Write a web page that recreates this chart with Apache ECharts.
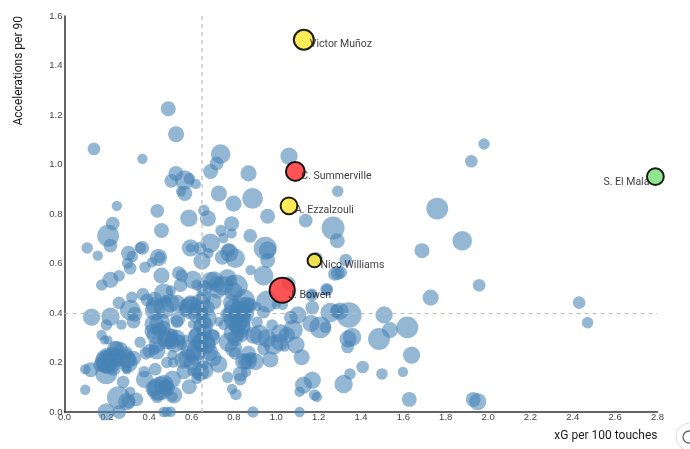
<!DOCTYPE html>
<html>
<head>
<meta charset="utf-8">
<style>html,body{margin:0;padding:0;background:#fff}#chart{width:690px;height:449px}</style>
<script src="https://cdn.jsdelivr.net/npm/echarts@6/dist/echarts.min.js"></script>
</head>
<body>
<div id="chart"></div>
<script>
// xG per 100 touches, accelerations per 90, playing-time weight
const squad = [
[.49,1.225,169],[.527,1.122,196],[.139,1.063,121],[.368,1.023,81],[.737,1.042,289],[.718,1.004,144],[.69,.972,169],
[.526,.964,169],[.504,.934,144],[.567,.937,289],[.59,.942,100],[.62,.922,81],[.551,.892,81],[.568,.883,169],[.869,.964,196],
[1.06,1.034,225],[.729,.883,196],[.888,.863,324],[.798,.842,196],[.959,.791,169],[.247,.833,81],[.438,.813,144],[.658,.814,100],
[.677,.782,196],[.587,.783,225],[.789,.761,169],[.228,.761,144],[.458,.733,169],[1.139,.773,144],[1.29,.892,100],[1.268,.743,400],
[1.981,1.083,100],[1.921,1.013,121],[1.76,.822,361],
[.206,.712,361],[.217,.672,144],[.107,.663,100],[.157,.632,81],[.302,.642,169],[.32,.628,100],[.367,.663,144],[.358,.663,100],
[.298,.601,100],[.31,.581,121],[.38,.585,100],[.413,.605,81],[.444,.625,225],[.449,.625,100],[.458,.551,196],
[.877,.712,144],[.948,.662,400],[.959,.655,225],[.959,.612,169],[.94,.551,289],[.879,.573,81],[.688,.682,289],[.75,.703,81],
[.789,.722,81],[.739,.733,100],[.595,.663,225],[.595,.663,64],[.641,.662,121],[.68,.642,81],[.649,.61,225],[.778,.643,256],
[.745,.625,169],[.806,.621,289],[.775,.655,144],[.54,.561,144],[.554,.551,121],[.548,.513,144],[.606,.534,256],[.625,.513,100],
[.66,.511,81],[.707,.534,225],[.72,.516,196],[.723,.493,225],[.77,.543,225],[.811,.509,400],[.789,.53,100],
[.176,.513,100],[.217,.534,196],[.258,.551,100],[.318,.464,100],[.37,.476,121],[.257,.441,121],[.128,.383,225],[.217,.385,256],
[.198,.352,100],[.31,.412,324],[.332,.395,169],[.326,.365,144],[.269,.353,81],
[.425,.456,169],[.424,.429,225],[.428,.411,324],[.468,.48,289],[.502,.491,81],[.476,.449,100],[.424,.354,289],[.447,.332,169],
[.428,.311,225],[.476,.298,196],[.51,.314,100],[.531,.439,225],[.578,.426,196],[.57,.412,144],[.641,.439,289],[.625,.419,196],
[.672,.419,196],[.704,.446,196],[.649,.403,121],[.531,.365,121],[.534,.375,169],[.602,.354,49],[.641,.352,144],[.657,.345,289],
[.66,.325,169],[.665,.365,121],[.699,.301,196],[.704,.311,100],[.728,.365,64],[.751,.352,81],[.507,.284,169],[.546,.291,81],
[.573,.298,36],[.554,.271,81],[.617,.23,289],[.685,.241,225],[.657,.264,100],[.728,.193,225],[.483,.2,100],[.509,.23,81],
[.513,.2,81],[.559,.21,225],[.564,.163,169],[.602,.163,64],[.625,.16,81],[.657,.19,81],[.66,.17,256],[.636,.143,64],[.625,.136,100],
[.589,.102,169],[.77,.14,100],[.791,.093,81],[.809,.071,100],[.83,.133,121],[.83,.154,169],[.858,.162,81],[.854,.204,169],
[.869,.237,169],[.88,.217,121],[.901,.204,225],[.972,.212,196],[.94,.255,121],[.806,.237,121],[.775,.282,289],[.806,.298,196],
[.838,.311,144],[.817,.352,256],[.827,.379,400],[.83,.403,361],[.798,.419,289],[.786,.443,196],[.846,.449,400],[.877,.433,144],
[.909,.426,64],[.94,.403,121],[.956,.446,361],[1.0,.433,64],[1.031,.433,81],[.909,.363,100],[.921,.311,324],[.98,.352,100],
[1.019,.318,256],[1.016,.282,225],[1.039,.264,81],[1.079,.332,289],[1.093,.271,225],[1.12,.221,196],[1.069,.381,144],[1.102,.392,225],
[1.17,.422,144],[1.164,.358,225],[1.208,.342,361],[1.232,.342,100],[1.239,.493,100],[1.255,.402,289],[1.285,.408,144],[1.168,.476,64],
[1.058,.52,144],[1.189,.621,121],[1.18,.612,144],[1.29,.561,144],
[.2,.204,400],[.207,.206,529],[.205,.215,256],[.197,.156,361],[.124,.171,169],[.098,.173,81],[.239,.255,196],[.266,.255,144],[.294,.241,100],
[.302,.197,256],[.291,.217,256],[.291,.177,81],[.295,.17,64],[.175,.311,81],[.189,.291,64],[.205,.291,64],[.357,.282,100],[.384,.237,121],
[.4,.247,144],[.425,.251,81],[.436,.247,225],[.428,.173,121],[.376,.163,100],[.378,.132,225],[.277,.121,121],[.098,.09,81],
[.255,.058,400],[.31,.082,81],[.294,.042,225],[.339,.051,144],[.258,0,144],[.197,.001,225],[.452,.096,441],[.476,.106,144],
[.438,.062,121],[.51,.133,225],[.515,.069,225],[.51,.062,81],[.468,0,81],[.483,.001,81],[.502,.001,81],[.89,0,100],[1.11,0,81],
[1.11,.082,81],[1.129,.109,225],[1.17,.129,225],[1.181,.069,100],[1.192,.061,81],[1.318,.113,256],
[1.301,.408,225],[1.343,.392,484],[1.339,.295,225],[1.358,.303,256],[1.337,.263,121],[1.485,.295,361],[1.537,.331,196],[1.509,.392,225],
[1.408,.182,121],[1.348,.154,100],[1.499,.154,100],[1.598,.162,81],
[1.878,.692,289],[1.688,.652,169],[1.958,.512,121],[1.729,.462,196],[2.43,.442,121],[2.47,.361,100],[1.619,.342,361],[1.639,.23,225],
[1.628,.051,169],[1.93,.051,169],[1.951,.042,225],
[1.288,.692,169],[1.328,.614,121],[1.277,.558,144],[1.304,.564,121],[1.238,.496,121],[1.167,.473,121],
[.6,.42,400],[.63,.4,324],[.67,.38,324],[.47,.42,324],[.5,.44,256],[.45,.36,324],[.49,.3,289],[.52,.28,289],[.63,.3,324],[.66,.28,361],
[.6,.25,361],[.8,.32,324],[.83,.34,324],[.85,.4,289],[.8,.39,400],[.8,.37,324],[.84,.42,361],[.75,.51,289],[.66,.5,196],[.69,.53,256],
[.23,.22,324],[.2,.2,289],[.3,.21,225],[.47,.11,289],[.44,.09,361],
[.53,.298,225],[.483,.291,256],[.625,.25,324],[.578,.217,256],[.6,.2,196],[.64,.163,256],[.704,.217,196],[.672,.271,256],[.625,.311,196],
[.64,.284,225],[.798,.257,225],[.846,.204,225],[.869,.204,196],[.893,.311,225],[.956,.298,256],[.987,.271,289],[1.05,.311,196],[.83,.352,324],
[.861,.433,196],[.767,.392,144],[.798,.487,256],[.657,.466,169],[.594,.439,196],[.389,.453,121],[.436,.271,196],[.413,.325,169],[.468,.338,169],
[.255,.217,196],[.231,.177,169],[.168,.19,144],[.247,.257,169],[.326,.217,169],[.42,.096,196],[.483,.096,196],[.302,.042,144]
];

const starNames = ['Victor Muñoz','C. Summerville','A. Ezzalzouli','S. El Mala','Nico Williams','J. Bowen'];
const starX = [1.13,1.09,1.06,2.79,1.18,1.028];
const starY = [1.504,.972,.833,.951,.612,.492];
const starWeight = [361,324,256,256,169,576];
const starColors = ['#ffe93f','#ff3b3f','#ffe93f','#7fe37f','#ffe93f','#ff3b3f'];
const medianX = 0.652;
const medianY = 0.395;

const stars = starNames.map((name, i) => ({
  name,
  value: [starX[i], starY[i], starWeight[i]],
  itemStyle: { color: starColors[i] },
  label: name === 'S. El Mala'
    ? { align: 'right', offset: [-6, 5.5] }
    : { align: 'left', offset: [6, 5] }
}));

const axisLabel = { color: '#444', fontSize: 9.5, fontFamily: 'Liberation Sans' };

const chart = echarts.init(document.getElementById('chart'), null, { renderer: 'canvas' });
chart.setOption({
  animation: false,
  backgroundColor: '#fff',
  grid: { left: 64.5, right: 32.5, top: 16, bottom: 37 },
  xAxis: {
    type: 'value', min: 0, max: 2.8, interval: 0.2,
    splitLine: { show: false }, axisTick: { show: false },
    axisLine: { onZero: false, lineStyle: { color: '#333', width: 1.5 } },
    axisLabel: { ...axisLabel, margin: 0, formatter: v => v.toFixed(1), showMaxLabel: true },
    name: 'xG per 100 touches', nameLocation: 'end', nameGap: 0,
    nameTextStyle: { color: '#1c1c1c', fontSize: 12, fontFamily: 'Roboto', align: 'right', verticalAlign: 'top', padding: [18, 0, 0, 0] }
  },
  yAxis: {
    type: 'value', min: 0, max: 1.6, interval: 0.2,
    splitLine: { show: false }, axisTick: { show: false },
    axisLine: { onZero: false, lineStyle: { color: '#333', width: 1.5 } },
    axisLabel: { ...axisLabel, margin: 2, formatter: v => v.toFixed(1) },
    name: 'Accelerations per 90', nameLocation: 'end', nameRotate: 90, nameGap: 0,
    nameTextStyle: { color: '#1c1c1c', fontSize: 12, fontFamily: 'Roboto', align: 'right', verticalAlign: 'bottom', padding: [0, 0, 40, 0] }
  },
  series: [
    {
      type: 'scatter', z: 2, data: squad, symbolSize: v => Math.sqrt(v[2]) * 1.15, clip: true,
      itemStyle: { color: 'rgba(70,130,180,0.72)', borderWidth: 0 },
      markLine: {
        silent: true, symbol: 'none', label: { show: false }, animation: false,
        data: [
          { xAxis: medianX, lineStyle: { color: '#c8c8c8', width: 1.5, type: [4, 4] } },
          { yAxis: medianY, lineStyle: { color: '#bbb', width: 1, type: [4, 4] } }
        ]
      }
    },
    {
      type: 'scatter', z: 3, data: stars, symbolSize: v => Math.sqrt(v[2]) * 1.05, clip: false,
      itemStyle: { opacity: 0.88, borderColor: '#000', borderWidth: 2 },
      label: {
        show: true, position: 'inside', verticalAlign: 'middle',
        formatter: p => p.name, color: '#1f1f27', fontSize: 10.5, fontFamily: 'Roboto'
      }
    }
  ],
  graphic: [
    { type: 'circle', shape: { cx: 690, cy: 437, r: 14 }, style: { fill: '#fff', stroke: '#ddd', lineWidth: 1 }, silent: true },
    { type: 'circle', shape: { cx: 689, cy: 437, r: 6 }, style: { fill: 'none', stroke: '#666', lineWidth: 1.3 }, silent: true }
  ]
});
</script>
</body>
</html>
